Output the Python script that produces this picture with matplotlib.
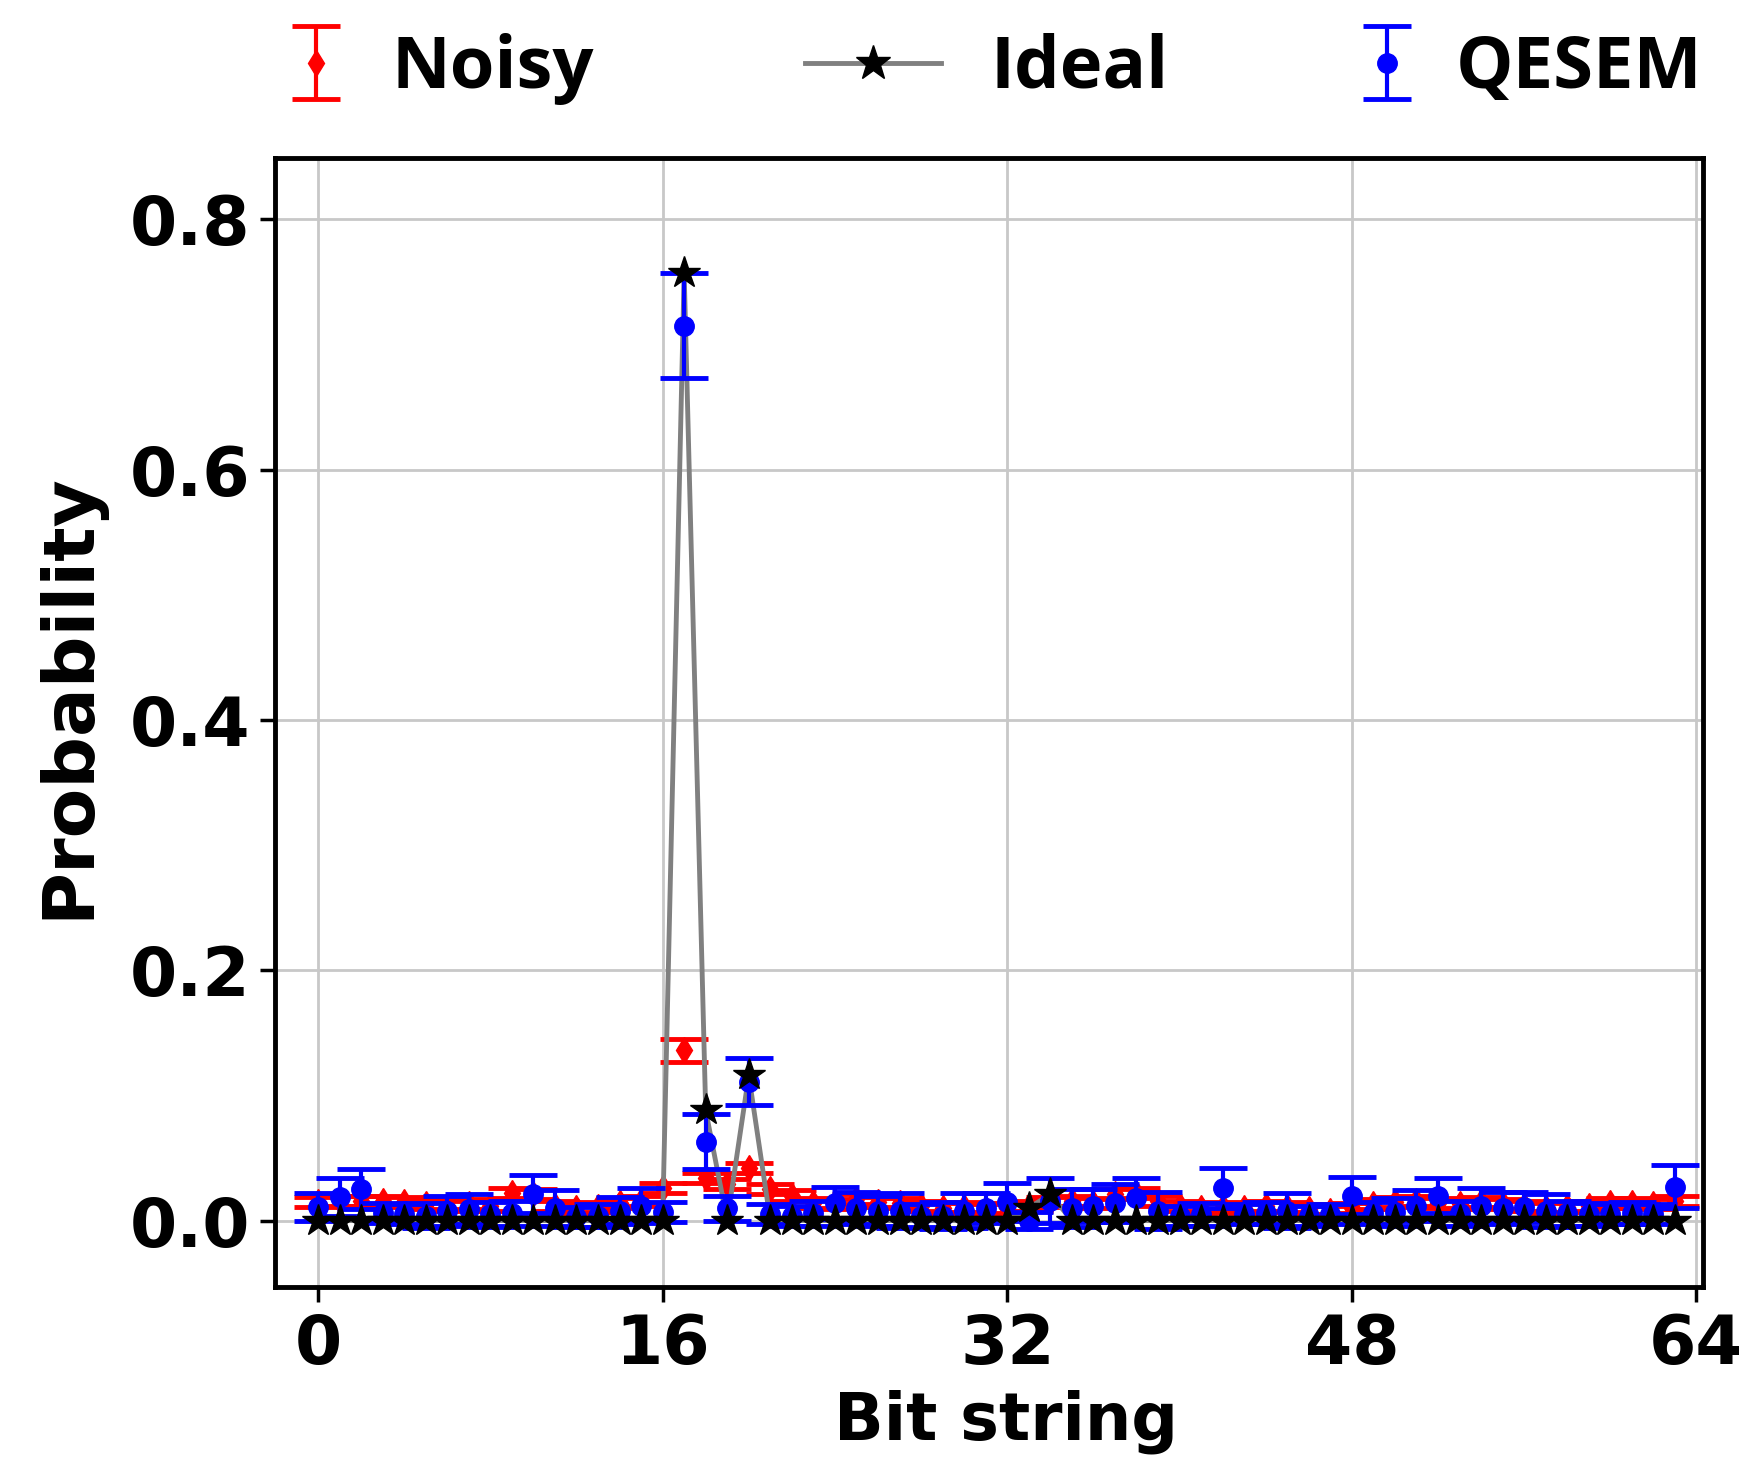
import matplotlib
matplotlib.use('Agg')
import matplotlib.pyplot as plt
from matplotlib.lines import Line2D
import numpy as np

bit_strings = np.arange(64)

noisy = [0.015, 0.016, 0.016, 0.016, 0.015, 0.013, 0.012, 0.013,
         0.012, 0.022, 0.021, 0.012, 0.010, 0.011, 0.014, 0.016,
         0.026, 0.136, 0.034, 0.029, 0.042, 0.025, 0.020, 0.014,
         0.013, 0.017, 0.015, 0.014, 0.012, 0.010, 0.011, 0.009,
         0.010, 0.012, 0.015, 0.016, 0.014, 0.021, 0.022, 0.016,
         0.012, 0.010, 0.011, 0.010, 0.012, 0.011, 0.009, 0.008,
         0.010, 0.013, 0.015, 0.016, 0.014, 0.013, 0.015, 0.013,
         0.012, 0.010, 0.011, 0.012, 0.014, 0.014, 0.013, 0.016]
noisy_err = [0.004] * 17 + [0.009, 0.004, 0.004, 0.004] + [0.004] * 43

qesem = [0.011, 0.019, 0.025, 0.006, 0.005, 0.004, 0.008, 0.009,
         0.005, 0.006, 0.021, 0.010, 0.003, 0.004, 0.008, 0.012,
         0.007, 0.715, 0.063, 0.010, 0.111, 0.005, 0.004, 0.006,
         0.014, 0.010, 0.008, 0.008, 0.004, 0.004, 0.008, 0.010,
         0.015, 0.000, 0.016, 0.010, 0.012, 0.014, 0.018, 0.008,
         0.004, 0.005, 0.026, 0.005, 0.006, 0.008, 0.004, 0.005,
         0.020, 0.006, 0.007, 0.012, 0.020, 0.006, 0.012, 0.010,
         0.011, 0.008, 0.006, 0.005, 0.005, 0.006, 0.005, 0.027]
qesem_err = [0.011, 0.015, 0.016, 0.008, 0.008, 0.010, 0.012, 0.012,
             0.010, 0.010, 0.015, 0.014, 0.008, 0.009, 0.011, 0.014,
             0.008, 0.042, 0.022, 0.010, 0.019, 0.008, 0.008, 0.010,
             0.013, 0.013, 0.012, 0.014, 0.009, 0.011, 0.014, 0.012,
             0.015, 0.007, 0.018, 0.015, 0.013, 0.015, 0.016, 0.015,
             0.008, 0.009, 0.016, 0.008, 0.009, 0.014, 0.008, 0.008,
             0.015, 0.009, 0.011, 0.012, 0.014, 0.010, 0.014, 0.013,
             0.012, 0.013, 0.010, 0.009, 0.008, 0.009, 0.008, 0.017]

ideal = [0.0] * 64
ideal[17] = 0.757
ideal[18] = 0.088
ideal[20] = 0.116
ideal[33] = 0.010
ideal[34] = 0.021

fig = plt.figure(figsize=(17.4, 14.64), dpi=100)
ax = fig.add_axes([0.158, 0.121, 0.8207, 0.771])

ax.grid(True, color='#c8c8c8', linewidth=2, zorder=0)

noisy_h = ax.errorbar(bit_strings, noisy, yerr=noisy_err, fmt='d', color='red',
                      markersize=13, elinewidth=3, capsize=17, capthick=3.5, zorder=2)
ax.plot(bit_strings, ideal, color='gray', linewidth=3.5, zorder=2.5)
qesem_h = ax.errorbar(bit_strings, qesem, yerr=qesem_err, fmt='o', color='blue',
                      markersize=14, elinewidth=3, capsize=17, capthick=3.5, zorder=3)
ax.plot(bit_strings, ideal, linestyle='none', marker='*', color='black',
        markersize=24, zorder=5)

ideal_h = Line2D([], [], color='gray', linewidth=3.5, marker='*',
                 markerfacecolor='black', markeredgecolor='black', markersize=26)

ax.set_xlim(-2, 64.3)
ax.set_ylim(-0.053, 0.849)
ax.set_xticks([0, 16, 32, 48, 64])
ax.set_yticks([0.0, 0.2, 0.4, 0.6, 0.8])
ax.tick_params(labelsize=49, width=2.5, length=11, pad=7)
for lab in ax.get_xticklabels() + ax.get_yticklabels():
    lab.set_fontweight('bold')
for s in ax.spines.values():
    s.set_linewidth(3.5)

ax.set_xlabel('Bit string', fontsize=47, fontweight='bold')
ax.set_ylabel('Probability', fontsize=52, fontweight='bold')
ax.xaxis.set_label_coords(0.512, -0.091)
ax.yaxis.set_label_coords(-0.1204, 0.5235)

# three legend entries, placed one by one like the original
leg_font = {'family': 'Open Sans', 'weight': 'bold', 'size': 52}
entries = [(noisy_h, 'Noisy', 280, 1.0, 0.54),
           (ideal_h, 'Ideal', 805, 1.88, 0.69),
           (qesem_h, 'QESEM', 1351, 1.0, 0.45)]
for h, name, x0, hl, pad in entries:
    leg = fig.legend([h], [name], loc='center left',
                     bbox_to_anchor=(x0 / 1740, 0.953), frameon=False,
                     prop=leg_font, borderpad=0, borderaxespad=0,
                     handlelength=hl, handletextpad=pad)

fig.savefig('out.png', dpi=100)
